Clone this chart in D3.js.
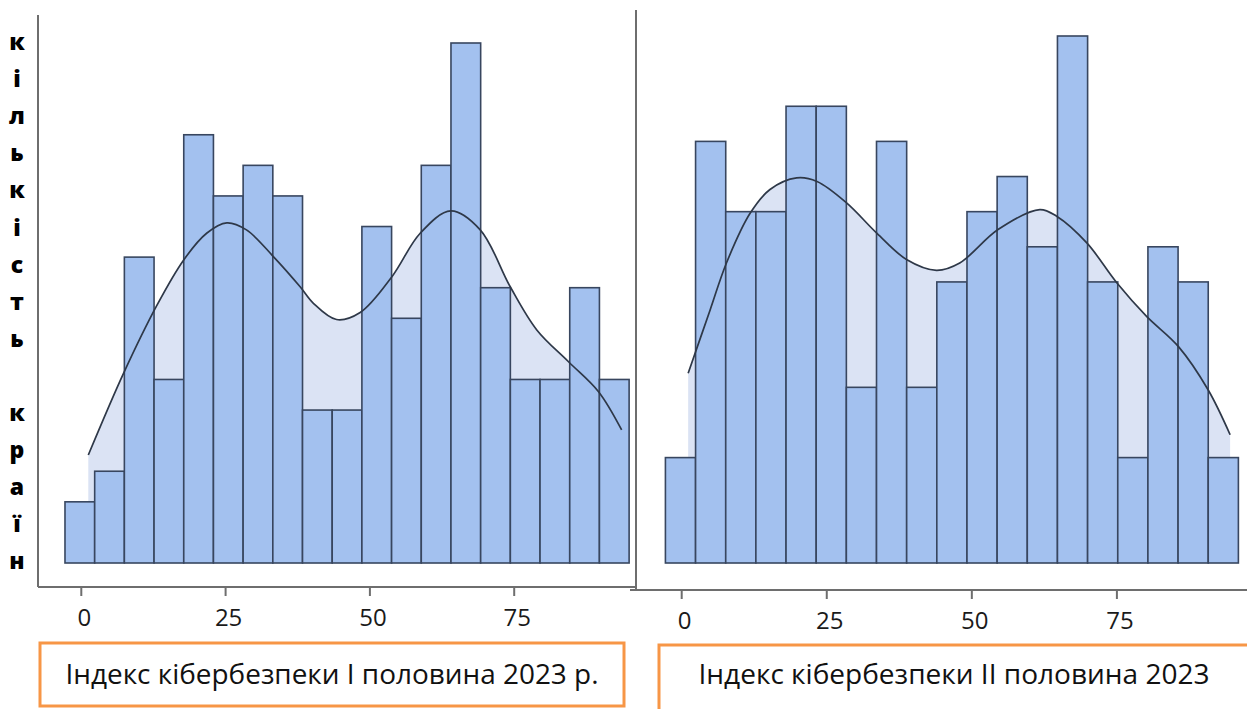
<!DOCTYPE html>
<html>
<head>
<meta charset="utf-8">
<script src="https://cdn.jsdelivr.net/npm/d3@7"></script>
<style>
  body { margin: 0; background: #fff; }
  svg { display: block; font-family: 'Open Sans', 'Noto Sans', sans-serif; }
</style>
</head>
<body>
<svg id="chart" width="1247" height="709"></svg>
<script>
// values
var xTicks = [0, 25, 50, 75]

var leftCounts = [2, 3, 10, 6, 14, 12, 13, 12, 5, 5, 11, 8, 13, 17, 9, 6, 6, 9, 6]
var leftBinStart = -2.74
var leftBinWidth = 5.144
var leftKdeX = [1.3, 7.4, 13.2, 17.8, 21.8, 25.3, 28.7, 33.4, 38.0, 40.3, 44.3, 48.4, 53.9, 58.8, 64.1, 69.2, 74.4, 79.0, 84.5, 89.7, 93.7]
var leftKdeY = [3.53, 6.2, 8.43, 9.9, 10.78, 11.12, 10.89, 10.01, 9.03, 8.49, 7.96, 8.19, 9.36, 10.78, 11.51, 10.89, 9.03, 7.62, 6.58, 5.6, 4.35]

var rightCounts = [3, 12, 10, 10, 13, 13, 5, 12, 5, 8, 10, 11, 9, 15, 8, 3, 9, 8, 3]
var rightBinStart = -2.72
var rightBinWidth = 5.197
var rightKdeX = [1.2, 5.0, 7.8, 11.9, 15.3, 19.9, 23.4, 28.5, 33.7, 38.9, 44.0, 48.0, 54.6, 61.8, 64.7, 69.9, 75.1, 80.2, 85.7, 90.8, 94.6]
var rightKdeY = [5.4, 7.21, 8.54, 9.96, 10.63, 10.96, 10.86, 10.25, 9.39, 8.63, 8.33, 8.54, 9.49, 10.06, 9.87, 9.11, 7.97, 7.02, 6.16, 4.93, 3.65]

var yLabel = 'кількість країн'
var leftTitle = 'Індекс кібербезпеки І половина 2023 р.'
var rightTitle = 'Індекс кібербезпеки ІІ половина 2023'

var barFill = '#a3c1ef'
var barStroke = '#38465f'
var areaFill = '#dbe3f4'
var curveStroke = '#2e3848'
var axisGray = '#6e6e6e'
var orange = '#f79646'

var svg = d3.select('#chart')

var panels = [
  {counts: leftCounts, binStart: leftBinStart, binWidth: leftBinWidth,
    kx: leftKdeX, ky: leftKdeY, yMax: 17,
    xRange: [80.8, 513.7], yRange: [563, 43],
    frame: {vx: 38, vy0: 15, vy1: 587, hy: 587, hx0: 38, hx1: 636},
    title: leftTitle, box: {x: 40, y: 643, w: 584, h: 63}, titleLen: 533, titleX: 332},
  {counts: rightCounts, binStart: rightBinStart, binWidth: rightBinWidth,
    kx: rightKdeX, ky: rightKdeY, yMax: 15,
    xRange: [681.2, 1116.4], yRange: [563, 36],
    frame: {vx: 636, vy0: 10, vy1: 590, hy: 590, hx0: 630, hx1: 1247},
    title: rightTitle, box: {x: 659, y: 645, w: 620, h: 90}, titleLen: 511, titleX: 954}
]

panels.forEach(function(p){
  var x = d3.scaleLinear().domain([0, 75]).range(p.xRange)
  var y = d3.scaleLinear().domain([0, p.yMax]).range(p.yRange)
  var g = svg.append('g')

  var kde = p.kx.map(function(d, i){ return {x: d, y: p.ky[i]} })
  var smooth = d3.curveCatmullRom.alpha(0.5)

  // light area under the density curve
  g.append('path')
    .attr('d', d3.area()
      .x(function(d){ return x(d.x) })
      .y0(y(0))
      .y1(function(d){ return y(d.y) })
      .curve(smooth)(kde))
    .attr('fill', areaFill)

  var bins = p.counts.map(function(c, i){
    return {x0: p.binStart + i*p.binWidth, x1: p.binStart + (i + 1)*p.binWidth, n: c}
  })

  g.selectAll('rect.bar').data(bins).enter().append('rect')
    .attr('class', 'bar')
    .attr('x', function(d){ return x(d.x0) })
    .attr('width', function(d){ return x(d.x1) - x(d.x0) })
    .attr('y', function(d){ return y(d.n) })
    .attr('height', function(d){ return y(0) - y(d.n) })
    .attr('fill', barFill)
    .attr('stroke', barStroke)
    .attr('stroke-width', 1.6)

  g.append('path')
    .attr('d', d3.line()
      .x(function(d){ return x(d.x) })
      .y(function(d){ return y(d.y) })
      .curve(smooth)(kde))
    .attr('fill', 'none')
    .attr('stroke', curveStroke)
    .attr('stroke-width', 1.7)

  var f = p.frame
  g.append('line')
    .attr('x1', f.vx).attr('x2', f.vx).attr('y1', f.vy0).attr('y2', f.vy1)
    .attr('stroke', axisGray).attr('stroke-width', 2)
  g.append('line')
    .attr('x1', f.hx0).attr('x2', f.hx1).attr('y1', f.hy).attr('y2', f.hy)
    .attr('stroke', axisGray).attr('stroke-width', 2)

  var axis = d3.axisBottom(x).tickValues(xTicks).tickSize(9).tickPadding(13)
  var axG = g.append('g')
    .attr('transform', 'translate(0,' + f.hy + ')')
    .call(axis)
  axG.select('.domain').remove()
  axG.selectAll('.tick line').attr('stroke', axisGray).attr('stroke-width', 2)
  axG.selectAll('.tick text')
    .attr('fill', '#1a1a1a')
    .attr('dx', 3)
    .style('font-size', '24px')
    .style('font-family', "'Open Sans', sans-serif")

  var b = p.box
  g.append('rect')
    .attr('x', b.x).attr('y', b.y).attr('width', b.w).attr('height', b.h)
    .attr('fill', '#fff')
    .attr('stroke', orange)
    .attr('stroke-width', 3)
  g.append('text')
    .attr('x', p.titleX)
    .attr('y', 684)
    .attr('text-anchor', 'middle')
    .attr('textLength', p.titleLen)
    .attr('lengthAdjust', 'spacingAndGlyphs')
    .style('font-size', '27px')
    .attr('fill', '#111')
    .text(p.title)
})

// vertical y label, one letter per line
svg.append('g').selectAll('text')
  .data(yLabel.split(''))
  .enter().append('text')
  .attr('x', 17)
  .attr('y', function(d, i){ return 50 + i*37.1 })
  .attr('text-anchor', 'middle')
  .style('font-size', '23px')
  .style('font-weight', 800)
  .attr('fill', '#000')
  .text(function(d){ return d })
</script>
</body>
</html>
